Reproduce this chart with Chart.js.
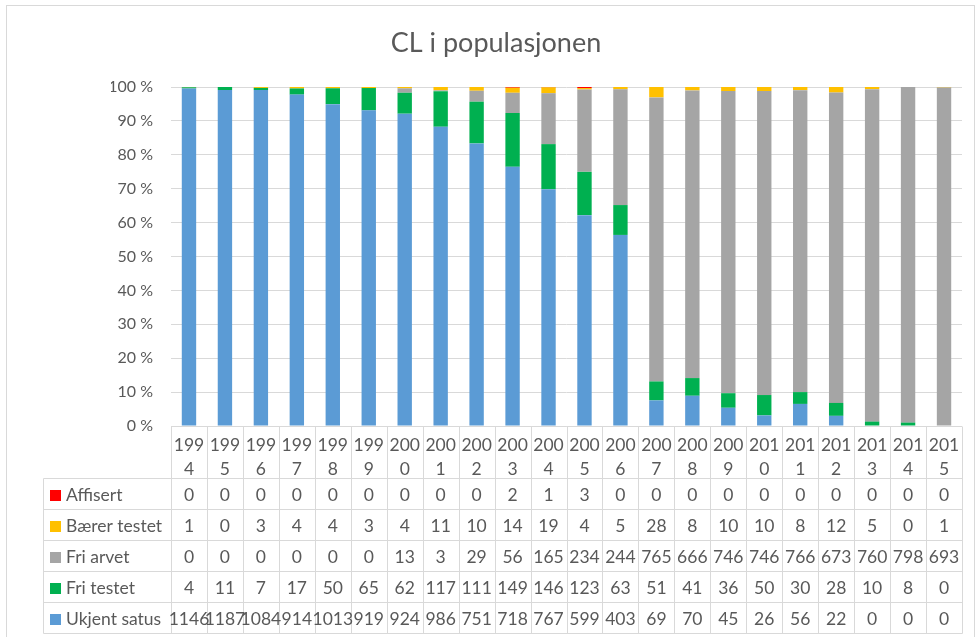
<!DOCTYPE html>
<html>
<head>
<meta charset="utf-8">
<title>CL i populasjonen</title>
<script src="https://cdn.jsdelivr.net/npm/chart.js@4.4.1/dist/chart.umd.min.js"></script>
<style>
  html, body { margin: 0; padding: 0; background: #fff; }
  #wrap { width: 977px; height: 637px; }
</style>
</head>
<body>
<div id="wrap"><canvas id="clChart" width="977" height="637"></canvas></div>
<script>
// data
const years = ['1994', '1995', '1996', '1997', '1998', '1999', '2000', '2001', '2002', '2003', '2004',
               '2005', '2006', '2007', '2008', '2009', '2010', '2011', '2012', '2013', '2014', '2015'];
const affisert    = [0, 0, 0, 0, 0, 0, 0, 0, 0, 2, 1, 3, 0, 0, 0, 0, 0, 0, 0, 0, 0, 0];
const baererTestet = [1, 0, 3, 4, 4, 3, 4, 11, 10, 14, 19, 4, 5, 28, 8, 10, 10, 8, 12, 5, 0, 1];
const friArvet    = [0, 0, 0, 0, 0, 0, 13, 3, 29, 56, 165, 234, 244, 765, 666, 746, 746, 766, 673, 760, 798, 693];
const friTestet   = [4, 11, 7, 17, 50, 65, 62, 117, 111, 149, 146, 123, 63, 51, 41, 36, 50, 30, 28, 10, 8, 0];
const ukjentSatus = [1146, 1187, 1084, 914, 1013, 919, 924, 986, 751, 718, 767, 599, 403, 69, 70, 45, 26, 56, 22, 0, 0, 0];
const yTicks = [0, 10, 20, 30, 40, 50, 60, 70, 80, 90, 100];

// stacking order: first is bottom
const series = [
    { label: 'Ukjent satus', values: ukjentSatus, color: '#5B9BD5' },
    { label: 'Fri testet', values: friTestet, color: '#00B050' },
    { label: 'Fri arvet', values: friArvet, color: '#A5A5A5' },
    { label: 'Bærer testet', values: baererTestet, color: '#FFC000' },
    { label: 'Affisert', values: affisert, color: '#FF0000' },
];

const totals = years.map((y, i) => series.reduce((s, d) => s + d.values[i], 0));
const toPct = vals => vals.map((v, i) => totals[i] ? v / totals[i] * 100 : 0);

const FONT = 'Lato, "Open Sans", sans-serif';
const TEXT = '#595959';
const LINE = '#d9d9d9';

// draws frame, title and the data table below the plot
const tablePlugin = {
    id: 'dataTable',
    beforeDraw(chart) {
        const ctx = chart.ctx;
        ctx.save();
        ctx.strokeStyle = LINE;
        ctx.lineWidth = 1;
        ctx.strokeRect(6.5, 5.5, 968, 660);
        ctx.restore();
    },
    afterDraw(chart) {
        const ctx = chart.ctx;
        const area = chart.chartArea;
        const xs = chart.scales.x;
        const colW = (area.right - area.left) / years.length;
        const top = Math.round(area.bottom) + 0.5;
        const headH = 52;
        const rowH = 31;
        const labelLeft = 43.5;
        const rows = series.slice().reverse();
        const tableBottom = top + headH + rowH * rows.length;

        ctx.save();
        // title
        ctx.fillStyle = TEXT;
        ctx.font = '27px ' + FONT;
        ctx.textAlign = 'center';
        ctx.textBaseline = 'middle';
        ctx.fillText('CL i populasjonen', 496, 43);

        ctx.strokeStyle = LINE;
        ctx.lineWidth = 1;
        ctx.beginPath();
        // vertical lines of the year columns
        for (let i = 0; i <= years.length; i++) {
            const x = Math.round(area.left + i * colW) + 0.5;
            ctx.moveTo(x, top);
            ctx.lineTo(x, tableBottom);
        }
        ctx.moveTo(area.left, top);
        ctx.lineTo(area.right, top);
        // row lines
        for (let r = 0; r <= rows.length; r++) {
            const y = top + headH + r * rowH;
            ctx.moveTo(labelLeft, y);
            ctx.lineTo(Math.round(area.right) + 0.5, y);
        }
        ctx.moveTo(labelLeft, top + headH);
        ctx.lineTo(labelLeft, tableBottom);
        ctx.stroke();

        ctx.fillStyle = TEXT;
        ctx.font = '17.5px ' + FONT;
        ctx.textAlign = 'center';
        years.forEach((yr, i) => {
            const cx = xs.getPixelForValue(i);
            ctx.fillText(yr.slice(0, 3), cx, top + 19);
            ctx.fillText(yr.slice(3), cx, top + 43);
        });

        rows.forEach((s, r) => {
            const cy = top + headH + r * rowH + rowH / 2 + 1;
            ctx.fillStyle = s.color;
            ctx.fillRect(50, cy - 5, 11, 11);
            ctx.fillStyle = TEXT;
            ctx.textAlign = 'left';
            ctx.fillText(s.label, 66, cy);
            ctx.textAlign = 'center';
            s.values.forEach((v, i) => {
                ctx.fillText(String(v), xs.getPixelForValue(i), cy);
            });
        });
        ctx.restore();
    }
};

const ctx = document.getElementById('clChart').getContext('2d');
const clChart = new Chart(ctx, {
    type: 'bar',
    data: {
        labels: years,
        datasets: series.map(s => ({
            label: s.label,
            data: toPct(s.values),
            backgroundColor: s.color,
            borderWidth: 0,
            barPercentage: 0.4,
            categoryPercentage: 1,
        })),
    },
    options: {
        responsive: false,
        animation: false,
        layout: { padding: { left: 111, right: 15, top: 87, bottom: 211 } },
        plugins: {
            legend: { display: false },
            title: { display: false },
            tooltip: { enabled: false },
        },
        scales: {
            x: {
                stacked: true,
                display: false,
            },
            y: {
                stacked: true,
                min: 0,
                max: 100,
                afterFit: s => { s.width = 60; },
                afterBuildTicks: s => { s.ticks = yTicks.map(v => ({ value: v })); },
                border: { display: false },
                grid: { color: LINE, drawTicks: false },
                ticks: {
                    padding: 18,
                    color: TEXT,
                    font: { family: FONT, size: 16 },
                    callback: v => v + ' %',
                },
            },
        },
    },
    plugins: [tablePlugin],
});
</script>
</body>
</html>
